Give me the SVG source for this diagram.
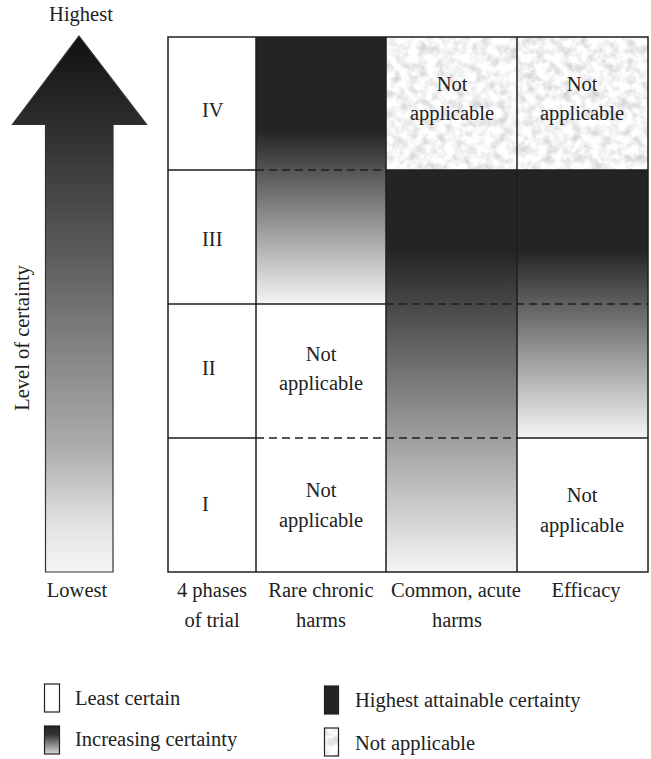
<svg xmlns="http://www.w3.org/2000/svg" width="651" height="759" viewBox="0 0 651 759">
<style>
  text { font-family: "Liberation Serif", "Times New Roman", serif; font-size: 20.5px; fill: #222; }
  .mid { text-anchor: middle; }
  .grid { stroke: #1e1e1e; stroke-width: 1.5; fill: none; }
  .dash { stroke: #1e1e1e; stroke-width: 1.3; stroke-dasharray: 8 5; fill: none; }
  .box { stroke: #222; stroke-width: 1.2; }
</style>
<defs>
  <linearGradient id="gArrow" gradientUnits="userSpaceOnUse" x1="0" y1="36" x2="0" y2="572">
    <stop offset="0" stop-color="#111"/>
    <stop offset="0.17" stop-color="#2e2e2e"/>
    <stop offset="0.4" stop-color="#5a5a5a"/>
    <stop offset="0.77" stop-color="#adadad"/>
    <stop offset="0.91" stop-color="#e2e2e2"/>
    <stop offset="1" stop-color="#f4f5f5"/>
  </linearGradient>
  <linearGradient id="gRare" gradientUnits="userSpaceOnUse" x1="0" y1="130" x2="0" y2="304">
    <stop offset="0" stop-color="#232525"/>
    <stop offset="1" stop-color="#f4f5f5"/>
  </linearGradient>
  <linearGradient id="gCommon" gradientUnits="userSpaceOnUse" x1="0" y1="250" x2="0" y2="572">
    <stop offset="0" stop-color="#232525"/>
    <stop offset="1" stop-color="#f4f5f5"/>
  </linearGradient>
  <linearGradient id="gEff" gradientUnits="userSpaceOnUse" x1="0" y1="250" x2="0" y2="438">
    <stop offset="0" stop-color="#232525"/>
    <stop offset="1" stop-color="#f4f5f5"/>
  </linearGradient>
  <linearGradient id="gLeg" x1="0" y1="0" x2="0" y2="1">
    <stop offset="0" stop-color="#222"/>
    <stop offset="0.3" stop-color="#333"/>
    <stop offset="1" stop-color="#d8d8d8"/>
  </linearGradient>
  <filter id="paper" x="0" y="0" width="1" height="1" color-interpolation-filters="sRGB">
    <feTurbulence type="fractalNoise" baseFrequency="0.11" numOctaves="4" seed="7" result="n"/>
    <feColorMatrix in="n" type="matrix" values="0.35 0 0 0 0.78  0.35 0 0 0 0.78  0.35 0 0 0 0.78  0 0 0 0 1"/>
  </filter>
</defs>
<rect width="651" height="759" fill="#fff"/>

<g id="certainty-arrow">
  <path d="M79,36 L146.5,124.5 L113,124.5 L113,572 L45.5,572 L45.5,124.5 L12.5,124.5 Z" fill="url(#gArrow)" stroke="#333" stroke-width="1.2"/>
  <text class="mid" x="81" y="21">Highest</text>
  <text class="mid" x="77" y="597">Lowest</text>
  <text class="mid" transform="translate(29,338) rotate(-90)">Level of certainty</text>
</g>

<g id="cells">
  <g id="col-phases">
    <rect x="168" y="37" width="88" height="535" fill="#fff"/>
    <text x="202" y="117">IV</text>
    <text x="202" y="246">III</text>
    <text x="202" y="375">II</text>
    <text x="202" y="511">I</text>
  </g>
  <g id="col-rare">
    <rect x="256" y="37" width="130" height="267" fill="url(#gRare)"/>
    <rect x="256" y="304" width="130" height="268" fill="#fff"/>
    <text class="mid" x="321" y="361">Not</text>
    <text class="mid" x="321" y="390">applicable</text>
    <text class="mid" x="321" y="497">Not</text>
    <text class="mid" x="321" y="527">applicable</text>
  </g>
  <g id="col-common">
    <rect x="386" y="37" width="131" height="133" fill="#fff" filter="url(#paper)"/>
    <rect x="386" y="170" width="131" height="402" fill="url(#gCommon)"/>
    <text class="mid" x="452" y="91">Not</text>
    <text class="mid" x="452" y="120">applicable</text>
  </g>
  <g id="col-efficacy">
    <rect x="517" y="37" width="131" height="133" fill="#fff" filter="url(#paper)"/>
    <rect x="517" y="170" width="131" height="268" fill="url(#gEff)"/>
    <rect x="517" y="438" width="131" height="134" fill="#fff"/>
    <text class="mid" x="582" y="91">Not</text>
    <text class="mid" x="582" y="120">applicable</text>
    <text class="mid" x="582" y="502">Not</text>
    <text class="mid" x="582" y="532">applicable</text>
  </g>
</g>

<g id="grid-lines">
  <rect class="grid" x="168" y="37" width="480" height="535"/>
  <path class="grid" d="M256,37V572 M386,37V572 M517,37V572"/>
  <path class="grid" d="M168,170H256 M386,170H648 M168,304H386 M168,438H256 M517,438H648"/>
  <path class="dash" d="M256,170H386 M386,304H648 M256,438H517"/>
</g>

<g id="column-labels">
  <text class="mid" x="212" y="597">4 phases</text>
  <text class="mid" x="212" y="627">of trial</text>
  <text class="mid" x="321" y="597">Rare chronic</text>
  <text class="mid" x="321" y="627">harms</text>
  <text class="mid" x="456" y="597">Common, acute</text>
  <text class="mid" x="457" y="627">harms</text>
  <text class="mid" x="586" y="597">Efficacy</text>
</g>

<g id="legend">
  <g id="legend-least">
    <rect class="box" x="44.5" y="684" width="15" height="28" fill="#fff"/>
    <text x="75" y="705">Least certain</text>
  </g>
  <g id="legend-increasing">
    <rect class="box" x="44.5" y="726" width="15" height="28" fill="url(#gLeg)"/>
    <text x="75" y="746">Increasing certainty</text>
  </g>
  <g id="legend-highest">
    <rect class="box" x="324.5" y="686" width="14" height="28" fill="#232525"/>
    <text x="355" y="707">Highest attainable certainty</text>
  </g>
  <g id="legend-na">
    <rect x="324.5" y="728" width="14" height="28" fill="#fff" filter="url(#paper)"/>
    <rect class="box" x="324.5" y="728" width="14" height="28" fill="none"/>
    <text x="355" y="750">Not applicable</text>
  </g>
</g>
</svg>
